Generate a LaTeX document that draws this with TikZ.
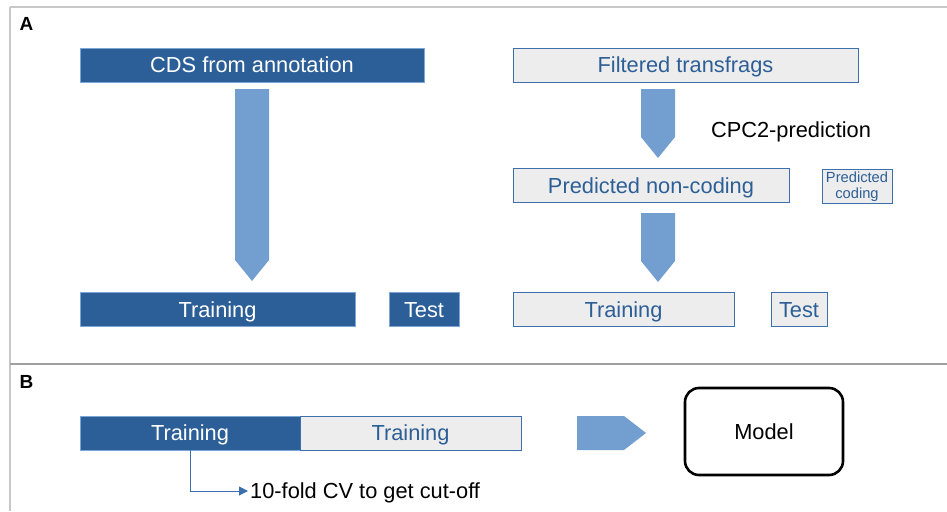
\documentclass[tikz,border=0pt]{standalone}
\usepackage{fontspec}
\setmainfont{Liberation Sans}
\usepackage{tikz}
\usetikzlibrary{arrows.meta, positioning}
\definecolor{darkBlue}{HTML}{2C5F97}
\definecolor{edgeBlue}{HTML}{7BA6D6}
\definecolor{textBlue}{HTML}{2D5F97}
\definecolor{lineBlue}{HTML}{3B6FAE}
\definecolor{boxGray}{HTML}{EDEDED}
\definecolor{arrowBlue}{HTML}{729FCF}
\definecolor{frameGray}{HTML}{C8C8C8}
\definecolor{splitGray}{HTML}{A0A0A0}

\tikzset{
    darkbox/.style={draw=edgeBlue, fill=darkBlue, text=white, line width=0.8pt, inner sep=0pt, minimum height=34pt, text height=15.8pt, text depth=0pt, font=\fontsize{21.8}{24}\selectfont},
    lightbox/.style={draw=lineBlue, fill=boxGray, text=textBlue, line width=0.8pt, inner sep=0pt, minimum height=34pt, text height=15.8pt, text depth=0pt, font=\fontsize{21.8}{24}\selectfont},
    plain/.style={inner sep=0pt, text height=15.8pt, text depth=0pt, font=\fontsize{21.8}{24}\selectfont}
}

\begin{document}
\begin{tikzpicture}[x=1pt, y=-1pt]
    \useasboundingbox (0,0) rectangle (947,511);

    % Frame
    \draw[frameGray, line width=1.2pt] (10,7) -- (947,7);
    \draw[frameGray, line width=1.2pt] (10,7) -- (10,511);
    \draw[splitGray, line width=1.2pt] (10,364) -- (947,364);
    \node[font=\fontsize{19}{22}\selectfont\bfseries] (labA) at (26.5,24) {A};
    \node[font=\fontsize{19}{22}\selectfont\bfseries] (labB) at (26.5,382) {B};

    % Panel A, left
    \node[darkbox, minimum width=344pt] (cds) at (252,65) {CDS from annotation};
    \node[darkbox, minimum width=275pt] (trainL) at (217.5,309.5) {Training};
    \node[darkbox, minimum width=70pt] (testL) at (424,309.5) {Test};

    % Panel A, right
    \node[lightbox, minimum width=345pt] (filt) at (685.5,65) {Filtered transfrags};
    \node[plain] (cpc) at (791,130) {CPC2-prediction};
    \node[lightbox, minimum width=70pt, text height=, text depth=, font=\fontsize{14.7}{16.5}\selectfont, align=center] (cod) at (857,186.5) {Predicted\\coding};
    \node[lightbox, minimum width=276pt] (noncod) at (651,185.5) {Predicted non-coding};
    \node[lightbox, minimum width=221pt] (trainR) at (623.5,309.5) {Training};
    \node[lightbox, minimum width=56pt] (testR) at (799,309.5) {Test};

    % Block arrows
    \fill[arrowBlue] (235,89) -- (269,89) -- (269,260) -- (252,281) -- (235,260) -- cycle;
    \fill[arrowBlue] (641,89) -- (675,89) -- (675,137) -- (658,158) -- (641,137) -- cycle;
    \fill[arrowBlue] (641,213) -- (675,213) -- (675,261) -- (658,282) -- (641,261) -- cycle;
    \fill[arrowBlue] (577,416) -- (624,416) -- (646,433) -- (624,450) -- (577,450) -- cycle;

    % Panel B
    \node[darkbox, minimum width=220pt] (trainB) at (190,433) {Training};
    \node[lightbox, minimum width=221pt] (restB) at (410.5,433) {Training};
    \node[draw=black, line width=2.6pt, rounded corners=14pt, minimum width=158pt, minimum height=87pt, font=\fontsize{21.8}{24}\selectfont] (model) at (764,431.5) {Model};
    \node[plain, anchor=west] (cv) at (250,491) {10-fold CV to get cut-off};
    \draw[lineBlue, line width=1pt, -{Triangle[length=9pt, width=9pt]}] (trainB.south) |- ([xshift=-2pt]cv.west);
\end{tikzpicture}
\end{document}
